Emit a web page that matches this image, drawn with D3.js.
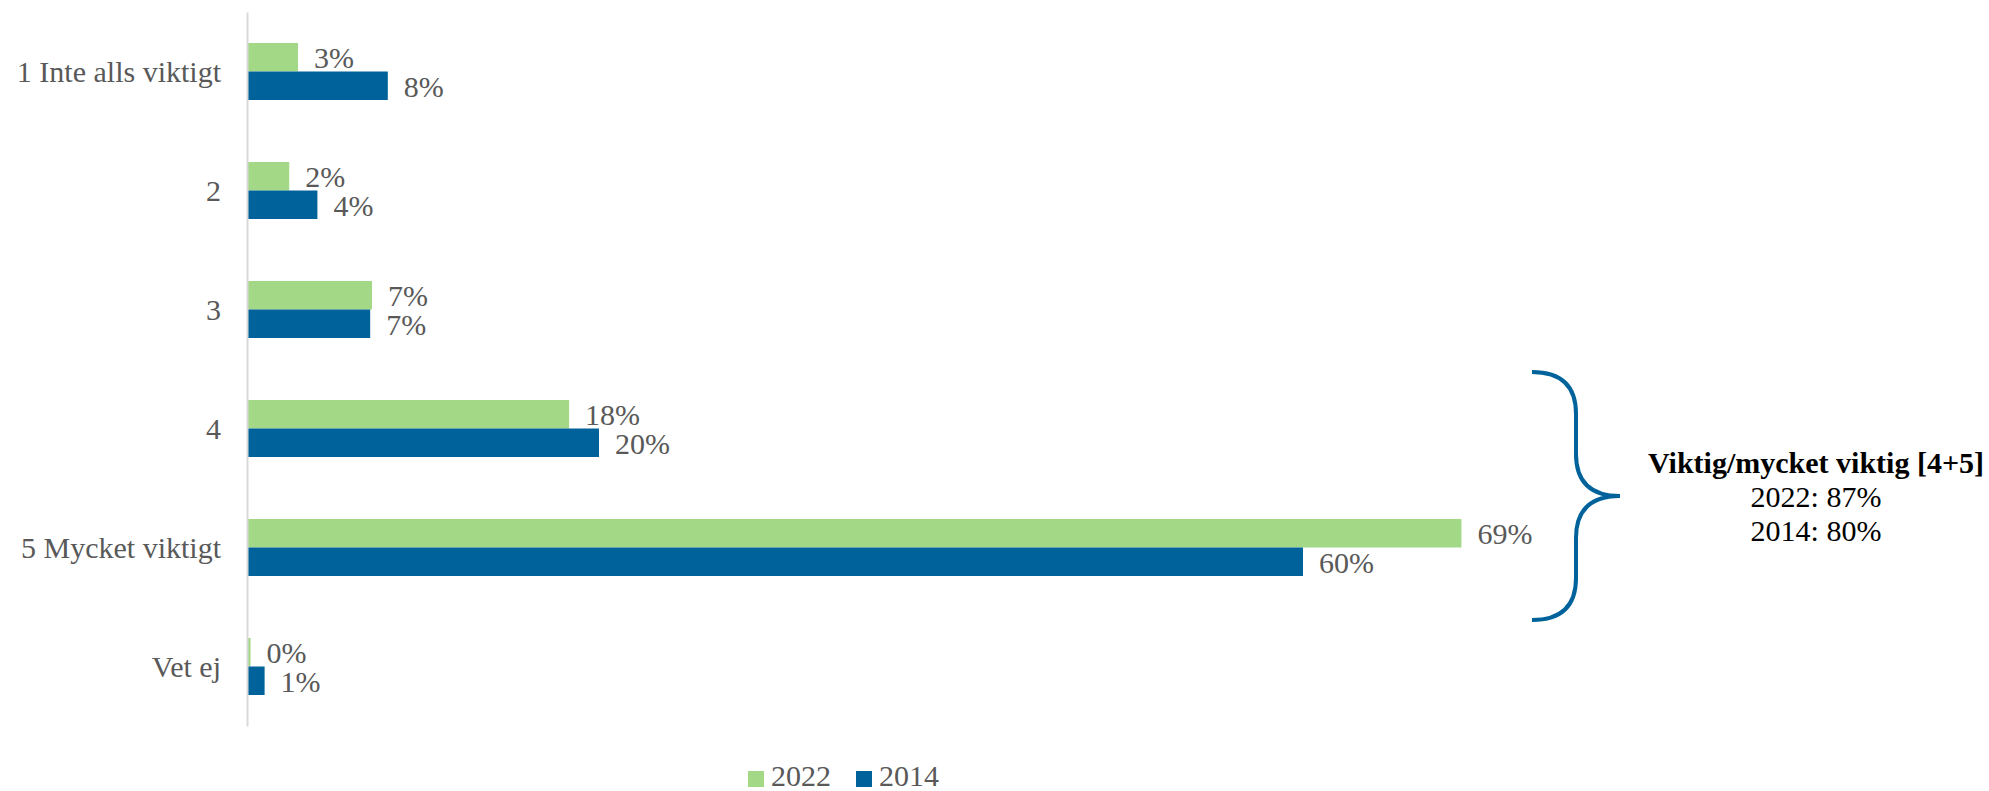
<!DOCTYPE html>
<html><head><meta charset="utf-8">
<script src="https://cdn.jsdelivr.net/npm/d3@7"></script>
<style>
html,body{margin:0;padding:0;background:#fff;}
svg{display:block;}
</style></head>
<body>
<svg id="chart" width="1989" height="791"></svg>
<script>
const categories = ["1 Inte alls viktigt", "2", "3", "4", "5 Mycket viktigt", "Vet ej"];
const seriesNames = ["2022", "2014"];
const values2022 = [2.9, 2.4, 7.1, 18.3, 69.0, 0.2];
const values2014 = [8.0, 4.0, 7.0, 20.0, 60.0, 1.0];
const seriesColors = ["#A2D886", "#00629B"];
const annotationLines = ["Viktig/mycket viktig [4+5]", "2022: 87%", "2014: 80%"];

const svg = d3.select("#chart");
const font = "'Liberation Serif', 'Times New Roman', serif";
const textGray = "#595959";

const y = d3.scaleBand().domain(categories).range([12, 726]).paddingInner(0.521).paddingOuter(0.2605);
const ySub = d3.scaleBand().domain(seriesNames).range([0, y.bandwidth()]);
const x = d3.scaleLinear().domain([0, 80]).range([247, 1655]);

const seriesData = [values2022, values2014];
const rows = categories.map((c, i) => seriesNames.map((s, j) => ({cat: c, series: s, value: seriesData[j][i], color: seriesColors[j]})));

// bars
const g = svg.append("g");
const groups = g.selectAll("g.cat").data(rows).join("g")
  .attr("transform", d => `translate(0,${y(d[0].cat)})`);
groups.selectAll("rect").data(d => d).join("rect")
  .attr("x", x(0))
  .attr("y", d => ySub(d.series))
  .attr("width", d => x(d.value) - x(0))
  .attr("height", ySub.bandwidth())
  .attr("fill", d => d.color);
groups.selectAll("text").data(d => d).join("text")
  .attr("x", d => x(d.value) + 16)
  .attr("y", d => ySub(d.series) + ySub.bandwidth() / 2 + 11)
  .attr("font-family", font).attr("font-size", 30).attr("fill", textGray)
  .text(d => d3.format(".0f")(d.value) + "%");

// axis
const yAxis = d3.axisLeft(y).tickSize(0).tickPadding(26);
const ax = svg.append("g").attr("transform", `translate(${x(0)},0)`).call(yAxis);
ax.select(".domain").attr("stroke", "#d9d9d9").attr("stroke-width", 2);
ax.selectAll(".tick text").attr("font-family", font).attr("font-size", 30)
  .attr("fill", textGray).attr("dy", "0.34em");

// bracket
const bx0 = 1532, bx1 = 1576, bx2 = 1620;
const yTop = y("4") - 28, yBot = y("5 Mycket viktigt") + y.bandwidth() + 44;
const yMid = (yTop + yBot) / 2;
const r = 42;
const p = d3.path();
p.moveTo(bx0, yTop);
p.quadraticCurveTo(bx1, yTop, bx1, yTop + r);
p.lineTo(bx1, yMid - r);
p.quadraticCurveTo(bx1, yMid, bx2, yMid);
p.quadraticCurveTo(bx1, yMid, bx1, yMid + r);
p.lineTo(bx1, yBot - r);
p.quadraticCurveTo(bx1, yBot, bx0, yBot);
svg.append("path").attr("d", p.toString()).attr("fill", "none")
  .attr("stroke", seriesColors[1]).attr("stroke-width", 4);

// annotation text
const ann = svg.append("text").attr("font-family", font).attr("font-size", 30)
  .attr("fill", "#000").attr("text-anchor", "middle");
ann.selectAll("tspan").data(annotationLines).join("tspan")
  .attr("x", 1816).attr("y", (d, i) => 473 + i * 34)
  .attr("font-weight", (d, i) => i === 0 ? "bold" : "normal")
  .text(d => d);

// legend
const legend = svg.append("g");
const legX = [748, 856];
seriesNames.forEach((s, i) => {
  legend.append("rect").attr("x", legX[i]).attr("y", 771).attr("width", 16).attr("height", 16).attr("fill", seriesColors[i]);
  legend.append("text").attr("x", legX[i] + 23).attr("y", 786)
    .attr("font-family", font).attr("font-size", 30).attr("fill", textGray).text(s);
});
</script>
</body></html>
